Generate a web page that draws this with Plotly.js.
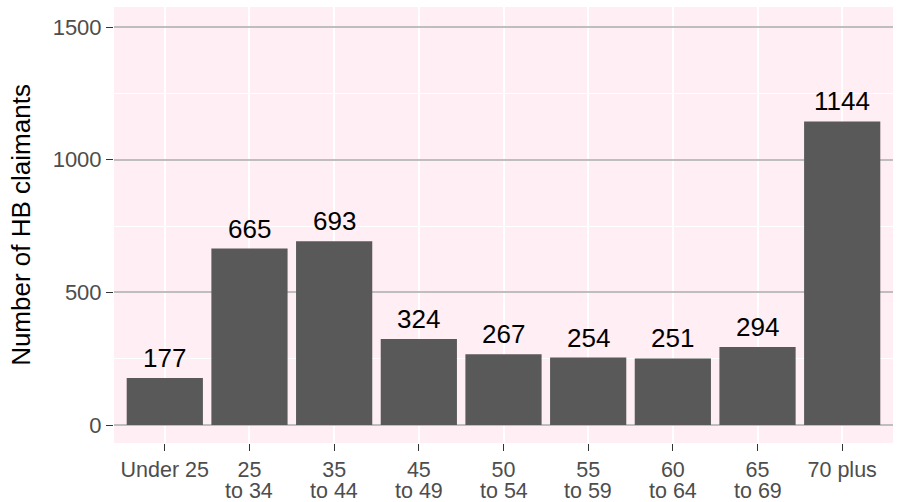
<!DOCTYPE html>
<html>
<head>
<meta charset="utf-8">
<script src="https://cdn.plot.ly/plotly-3.0.1.min.js"></script>
<style>
html, body { margin: 0; padding: 0; background: #ffffff; }
#chart { width: 898px; height: 502px; }
</style>
</head>
<body>
<div id="chart"></div>
<script>
const categories = ['Under 25', '25 to 34', '35 to 44', '45 to 49', '50 to 54', '55 to 59', '60 to 64', '65 to 69', '70 plus'];
const labelLine1 = ['Under 25', '25', '35', '45', '50', '55', '60', '65', '70 plus'];
const labelLine2 = ['', 'to 34', 'to 44', 'to 49', 'to 54', 'to 59', 'to 64', 'to 69', ''];
const claimants = [177, 665, 693, 324, 267, 254, 251, 294, 1144];
const yTicks = [0, 500, 1000, 1500];

const FONT = 'Liberation Sans, Arial, sans-serif';

const annotations = [];
categories.forEach((c, i) => {
  annotations.push({
    x: c, y: claimants[i], xref: 'x', yref: 'y',
    text: String(claimants[i]), showarrow: false,
    yanchor: 'bottom', yshift: 3,
    font: { family: FONT, size: 26, color: '#000000' }
  });
  if (labelLine2[i]) {
    annotations.push({
      x: c, y: 0, xref: 'x', yref: 'paper',
      text: labelLine2[i], showarrow: false,
      yanchor: 'top', yshift: -35, borderpad: 0,
      font: { family: FONT, size: 21.5, color: '#4d4d4d' }
    });
  }
});

const data = [{
  type: 'bar',
  x: categories,
  y: claimants,
  width: 0.9,
  marker: { color: '#595959' },
  hoverinfo: 'none'
}];

const layout = {
  width: 898, height: 502,
  margin: { l: 114, r: 5, t: 7, b: 59 },
  paper_bgcolor: '#ffffff',
  plot_bgcolor: '#FFEEF4',
  font: { family: FONT },
  showlegend: false,
  xaxis: {
    type: 'category',
    range: [-0.6, 8.6],
    tickmode: 'array',
    tickvals: categories,
    ticktext: labelLine1,
    showgrid: true, gridcolor: '#ffffff', gridwidth: 2,
    ticks: 'outside', ticklen: 7, tickwidth: 1, tickcolor: '#333333',
    tickfont: { family: FONT, size: 21.5, color: '#4d4d4d' },
    showline: false, zeroline: false
  },
  yaxis: {
    range: [-67.8, 1575.4],
    tickmode: 'array',
    tickvals: yTicks,
    ticktext: yTicks.map(String),
    showgrid: true, gridcolor: '#BEBEBE', gridwidth: 2,
    minor: { tickmode: 'array', tickvals: [250, 750, 1250], showgrid: true, gridcolor: '#ffffff', gridwidth: 1, ticks: '' },
    ticks: 'outside', ticklen: 7, tickwidth: 1, tickcolor: '#333333',
    tickfont: { family: FONT, size: 22, color: '#4d4d4d' },
    showline: false, zeroline: false,
    title: { text: 'Number of HB claimants', font: { family: FONT, size: 26, color: '#000000' }, standoff: 14 }
  },
  annotations: annotations
};

Plotly.newPlot('chart', data, layout, { staticPlot: true, displayModeBar: false });
</script>
</body>
</html>
